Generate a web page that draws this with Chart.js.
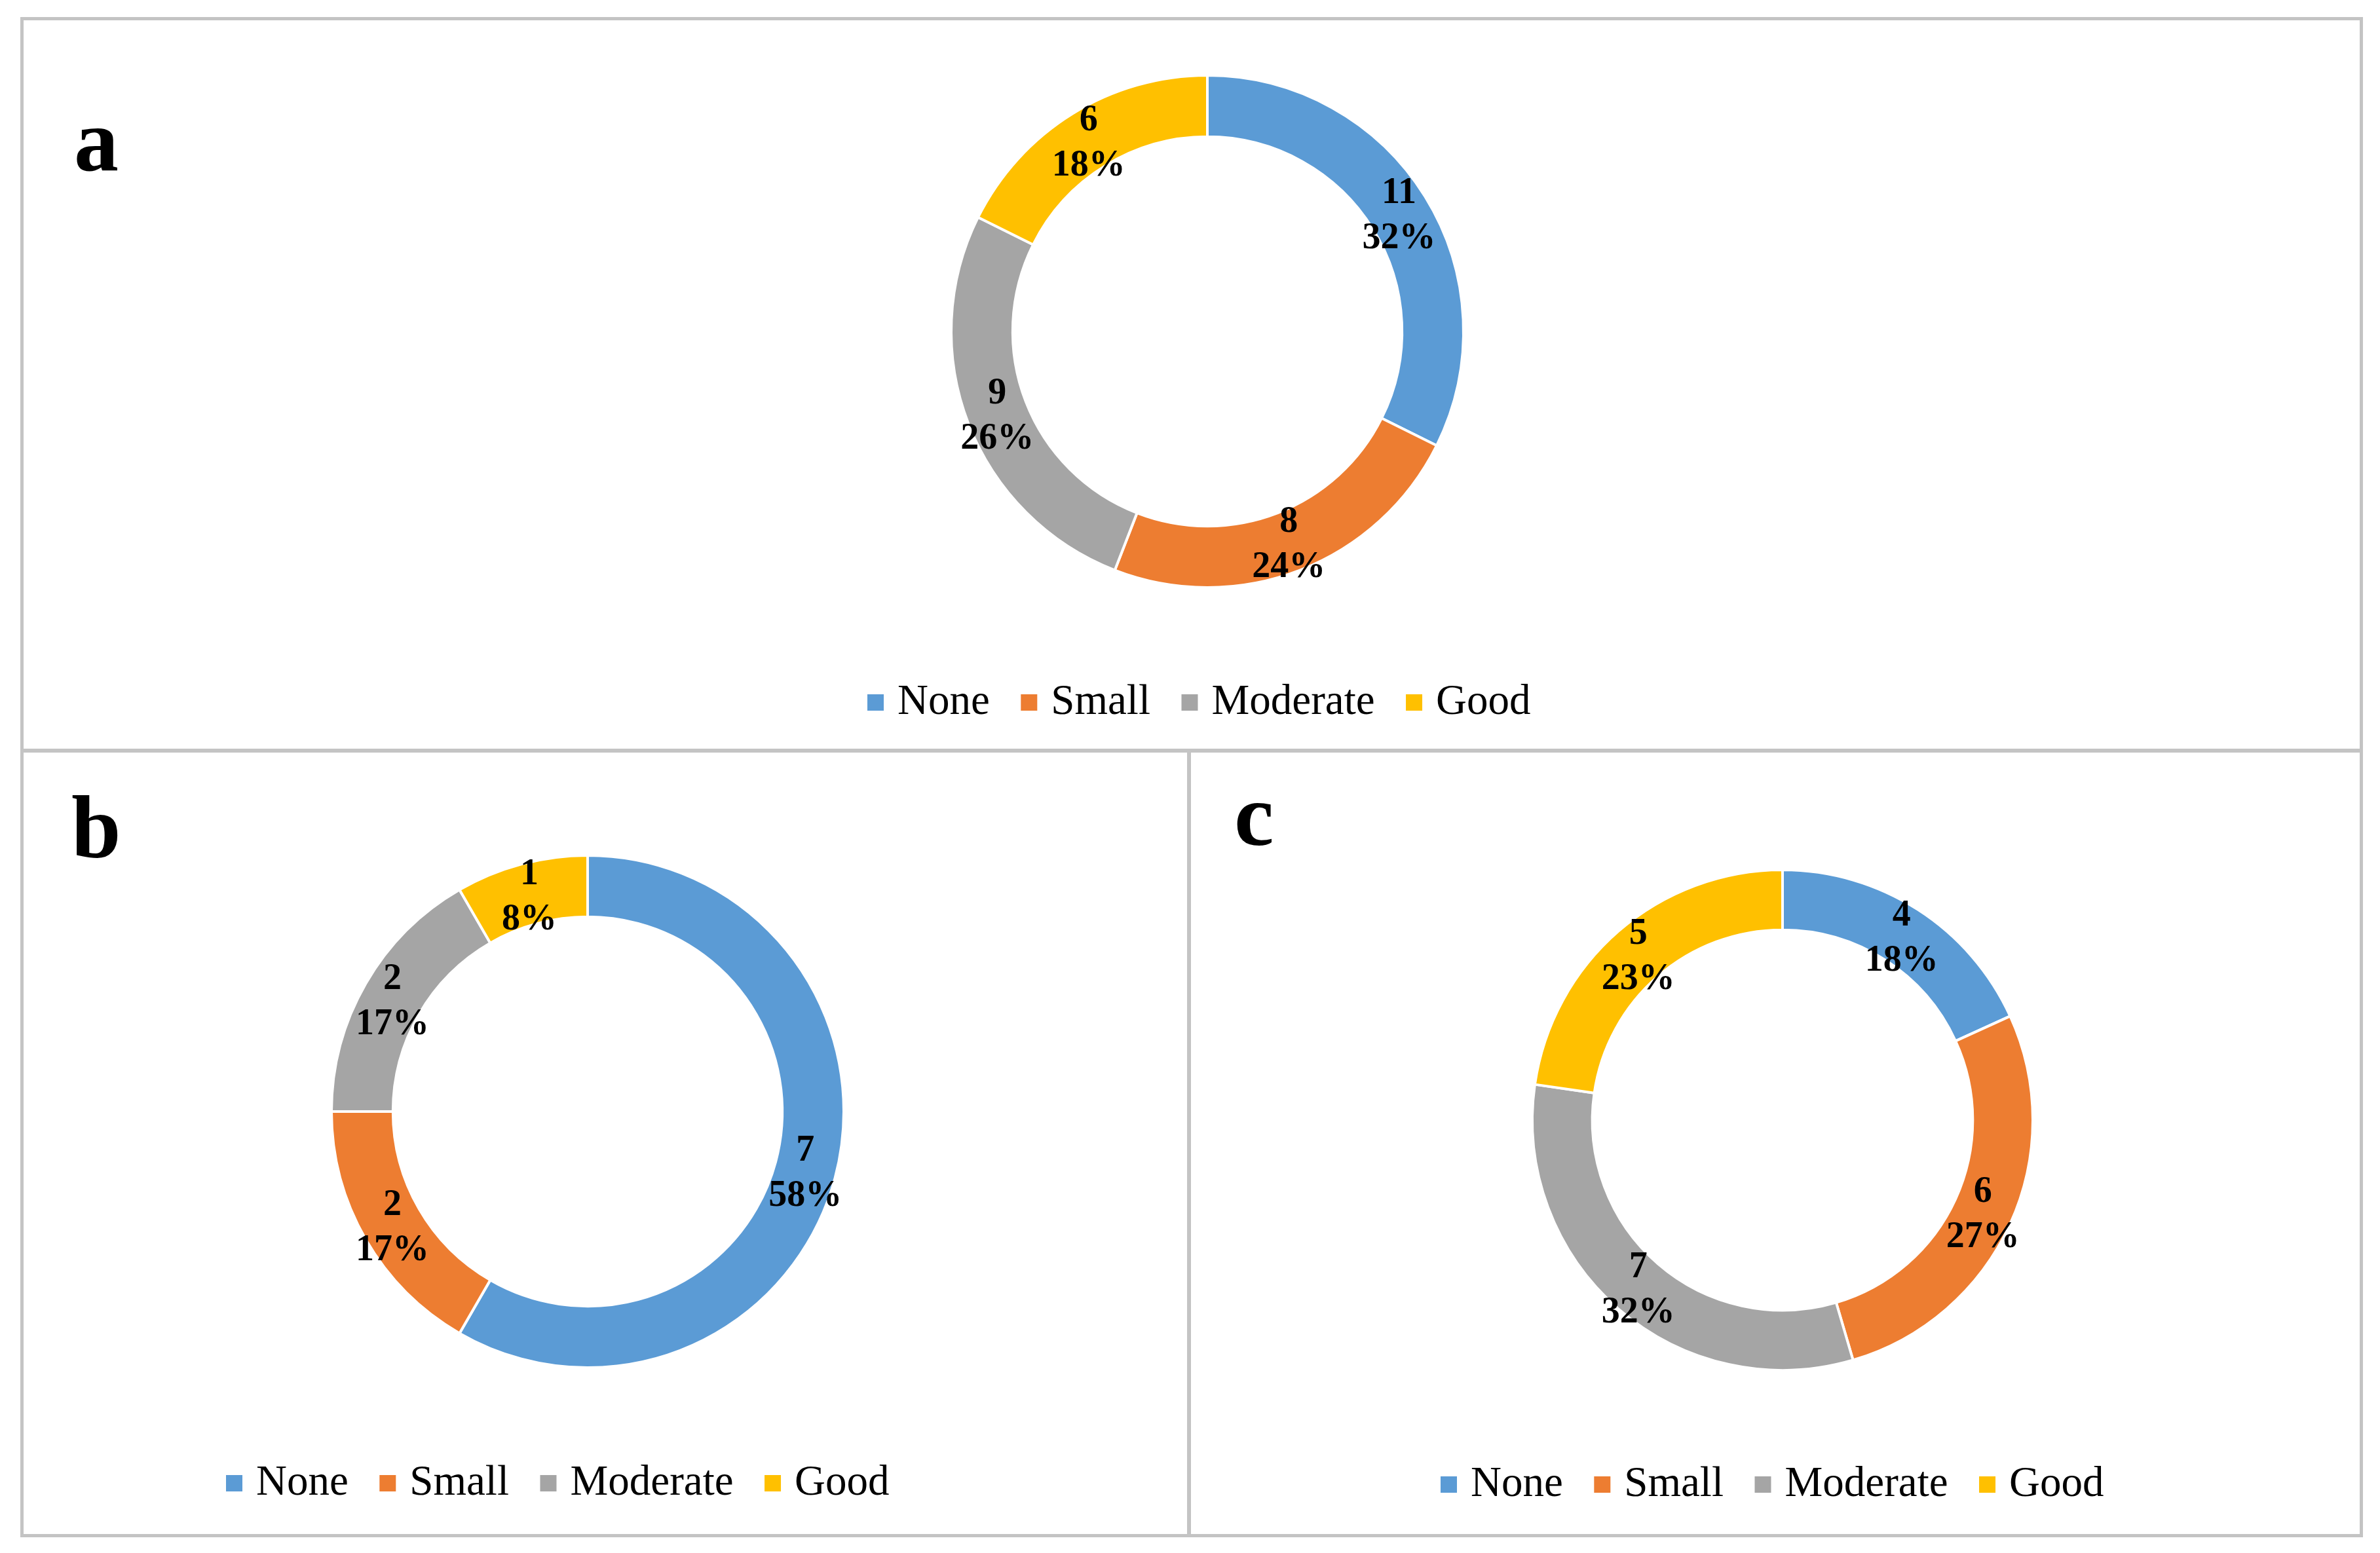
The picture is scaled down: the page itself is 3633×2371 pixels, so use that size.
<!DOCTYPE html>
<html>
<head>
<meta charset="utf-8">
<title>Doughnut panels</title>
<script src="https://cdn.jsdelivr.net/npm/chart.js@4.4.1/dist/chart.umd.min.js"></script>
<style>
  html, body { margin: 0; padding: 0; background: #fff; }
  body { width: 3633px; height: 2371px; position: relative; overflow: hidden; }
  .frame { position: absolute; box-sizing: border-box; border: 5px solid #c4c4c4; left: 31px; top: 26px; width: 3576px; height: 2321px; }
  .hline { position: absolute; background: #c4c4c4; left: 31px; top: 1143px; width: 3576px; height: 6px; }
  .vline { position: absolute; background: #c4c4c4; left: 1812px; top: 1143px; width: 6px; height: 1204px; }
  .letter { position: absolute; font-family: "Liberation Serif", "Times New Roman", serif; font-weight: bold; font-size: 136px; line-height: 136px; color: #000; }
  canvas { position: absolute; }
</style>
</head>
<body>
<div class="frame"></div>
<div class="hline"></div>
<div class="vline"></div>

<div class="letter" style="left:113px; top:146px;">a</div>
<div class="letter" style="left:109px; top:1194px;">b</div>
<div class="letter" style="left:1884px; top:1176px;">c</div>

<canvas id="chartA" width="3566" height="1112" style="left:36px; top:31px; width:3566px; height:1112px;"></canvas>
<canvas id="chartB" width="1776" height="1193" style="left:36px; top:1149px; width:1776px; height:1193px;"></canvas>
<canvas id="chartC" width="1784" height="1193" style="left:1818px; top:1149px; width:1784px; height:1193px;"></canvas>

<script>
// categories and counts per panel
const categories = ["None", "Small", "Moderate", "Good"];
const valuesA = [11, 8, 9, 6];
const valuesB = [7, 2, 2, 1];
const valuesC = [4, 6, 7, 5];

const sliceColors = ["#5B9BD5", "#ED7D31", "#A5A5A5", "#FFC000"];

Chart.defaults.font.family = "'Liberation Serif', 'Times New Roman', serif";
Chart.defaults.color = "#000";

// value + percentage in the middle of each ring slice
const arcLabels = {
  id: "arcLabels",
  afterDatasetsDraw(chart) {
    const ctx = chart.ctx;
    const values = chart.data.datasets[0].data;
    const total = values.reduce((a, b) => a + b, 0);
    ctx.save();
    ctx.font = "bold 56px 'Liberation Serif', 'Times New Roman', serif";
    ctx.fillStyle = "#000";
    ctx.textAlign = "center";
    ctx.textBaseline = "middle";
    chart.getDatasetMeta(0).data.forEach((arc, i) => {
      const p = arc.getCenterPoint();
      ctx.fillText(String(values[i]), p.x, p.y - 29);
      ctx.fillText(Math.round(values[i] / total * 100) + "%", p.x, p.y + 40);
    });
    ctx.restore();
  }
};

// nudge the legend sideways, it is not centred under the ring in the original
const legendShift = {
  id: "legendShift",
  afterLayout(chart, args, opts) {
    if (chart.legend && opts.dx) {
      chart.legend.left += opts.dx;
      chart.legend.right += opts.dx;
    }
  }
};

function makeDoughnut(id, values, radius, padding, dx) {
  return new Chart(document.getElementById(id), {
    type: "doughnut",
    data: {
      labels: categories,
      datasets: [{
        data: values,
        backgroundColor: sliceColors,
        borderColor: "#ffffff",
        borderWidth: 4,
        radius: radius,
        cutout: "76%"
      }]
    },
    options: {
      responsive: false,
      animation: false,
      devicePixelRatio: 1,
      layout: { padding: padding },
      plugins: {
        tooltip: { enabled: false },
        legend: {
          position: "bottom",
          labels: {
            font: { size: 65 },
            color: "#000",
            usePointStyle: true,
            pointStyle: "rect",
            boxWidth: 2,
            boxHeight: 25,
            padding: 59,
            generateLabels(chart) {
              return Chart.overrides.doughnut.plugins.legend.labels.generateLabels(chart)
                .map(item => ({ ...item, lineWidth: 0, strokeStyle: "rgba(0,0,0,0)" }));
            }
          }
        },
        legendShift: { dx: dx }
      }
    },
    plugins: [arcLabels, legendShift]
  });
}

makeDoughnut("chartA", valuesA, 391, { left: 48, right: 0, top: 0, bottom: 28 }, -7);
makeDoughnut("chartB", valuesB, 391, { left: 0, right: 54, top: 72, bottom: 35 }, -40);
makeDoughnut("chartC", valuesC, 382, { left: 22, right: 0, top: 96, bottom: 33 }, -10);
</script>
</body>
</html>
